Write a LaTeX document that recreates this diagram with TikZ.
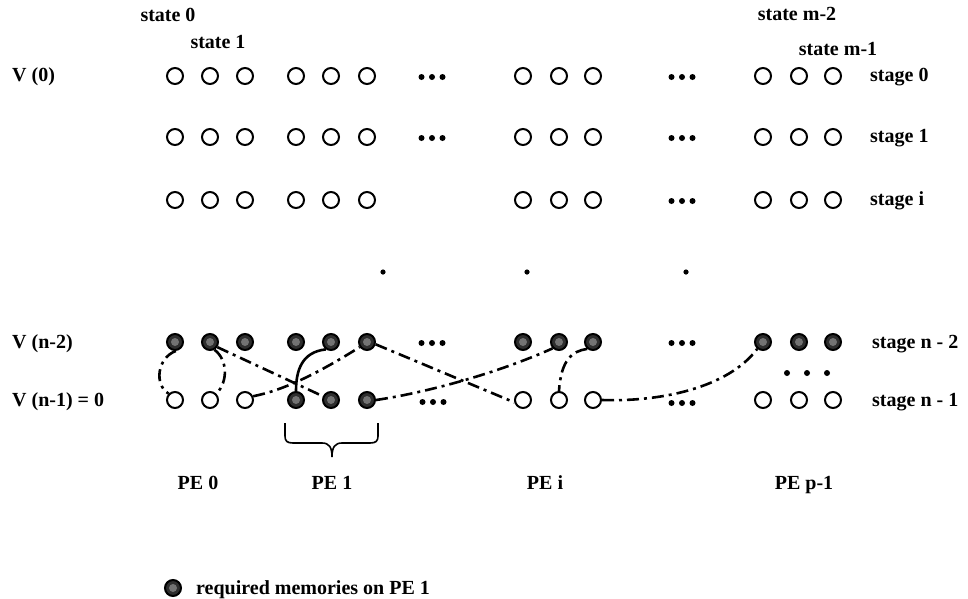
\documentclass[tikz,border=0pt]{standalone}
\usepackage{fontspec}
\setmainfont{Liberation Serif}
\begin{document}
\begin{tikzpicture}[x=1pt,y=-1pt,
  cell/.style={circle,draw,line width=2pt,minimum size=16pt,inner sep=0pt},
  opencell/.style={cell,fill=white},
  reqcell/.style={cell,fill=black!82,
    path picture={\fill[black!55] (path picture bounding box.center) circle (4pt);}},
  lbl/.style={font=\fontsize{20}{24}\selectfont\bfseries,inner sep=0pt,anchor=base},
  lblw/.style={lbl,anchor=base west},
  link/.style={line width=2.6pt,dash pattern=on 12pt off 5pt on 3pt off 5pt},
  solidlink/.style={line width=2.6pt},
  hdots/.pic={\foreach \d in {-10.5,0,10.5} \fill (\d,0) circle (3pt);},
]
\useasboundingbox (0,0) rectangle (968,598);

% column positions of the twelve states shown
\def\cols{1/175,2/210,3/245,4/296,5/331,6/367,7/523,8/559,9/593,10/763,11/799,12/833}

% stages 0, 1, i : all open
\foreach \r/\y in {a/76,b/137,c/200}
  \foreach \k/\x in \cols
    \node[opencell] (c-\r-\k) at (\x,\y) {};

% stage n-2 : every state required
\foreach \k/\x in \cols
  \node[reqcell] (c-n2-\k) at (\x,342) {};

% stage n-1 : states on PE 1 required
\foreach \k/\x in \cols {
  \ifnum\k>3 \ifnum\k<7
    \node[reqcell] (c-n1-\k) at (\x,400) {};
  \else
    \node[opencell] (c-n1-\k) at (\x,400) {};
  \fi\else
    \node[opencell] (c-n1-\k) at (\x,400) {};
  \fi
}

% horizontal ellipses
\pic at (432,77) {hdots};
\pic at (432,138) {hdots};
\pic at (682,77) {hdots};
\pic at (682,138) {hdots};
\pic at (682,201) {hdots};
\pic at (432,343) {hdots};
\pic at (682,343) {hdots};
\pic at (433,402) {hdots};
\pic at (682,403) {hdots};

% vertical continuation marks
\foreach \x in {383,527,686} \fill (\x,272) circle (2.6pt);
\foreach \x in {787,807,827} \fill (\x,373) circle (3pt);

% labels
\node[lbl] (s0) at (168,21) {state 0};
\node[lbl] (s1) at (218,48) {state 1};
\node[lbl] (sm2) at (797,20) {state m-2};
\node[lbl] (sm1) at (838,55) {state m-1};
\node[lblw] (v0) at (12,81) {V (0)};
\node[lblw] (vn2) at (12,348) {V (n-2)};
\node[lblw] (vn1) at (12,406) {V (n-1) = 0};
\node[lblw] (g0) at (870,81) {stage 0};
\node[lblw] (g1) at (870,142) {stage 1};
\node[lblw] (gi) at (870,205) {stage i};
\node[lblw] (gn2) at (872,348) {stage n - 2};
\node[lblw] (gn1) at (872,406) {stage n - 1};
\node[lbl] (pe0) at (198,489) {PE 0};
\node[lbl] (pe1) at (332,489) {PE 1};
\node[lbl] (pei) at (545,489) {PE i};
\node[lbl] (pep) at (804,489) {PE p-1};

% dependencies between the last two stages
\draw[link] (c-n2-1.-85) .. controls (157,358) and (154,385) .. (c-n1-1.135);
\draw[link] (c-n2-2.-60) .. controls (228,360) and (228,382) .. (c-n1-2.45);
\draw[link] (c-n2-2.-35) -- (c-n1-5.155);
\draw[solidlink] (c-n2-5.-125) .. controls (302,352) and (296,370) .. (c-n1-4.north);
\draw[link] (c-n1-3.25) .. controls (285,390) and (320,372) .. (c-n2-6.215);
\draw[link] (c-n2-6.-15) -- (c-n1-7.195);
\draw[link] (c-n1-6.east) .. controls (430,392) and (500,372) .. (c-n2-8.225);
\draw[link] (c-n2-9.230) .. controls (572,351) and (561,360) .. (c-n1-8.north);
\draw[link] (c-n1-9.east) .. controls (660,402) and (728,388) .. (c-n2-10.230);

% brace grouping the states held by PE 1
\draw[line width=1.6pt]
  (285,423) -- (285,436) .. controls (285,441) and (287,443) .. (293,443)
  -- (322,443) .. controls (329,443) and (332,447) .. (332,457)
  .. controls (332,447) and (335,443) .. (342,443)
  -- (370,443) .. controls (376,443) and (378,441) .. (378,436) -- (378,423);

% legend
\node[reqcell] (key) at (173,588) {};
\node[lblw] (keytext) at (196,594) {required memories on PE 1};
\end{tikzpicture}
\end{document}
